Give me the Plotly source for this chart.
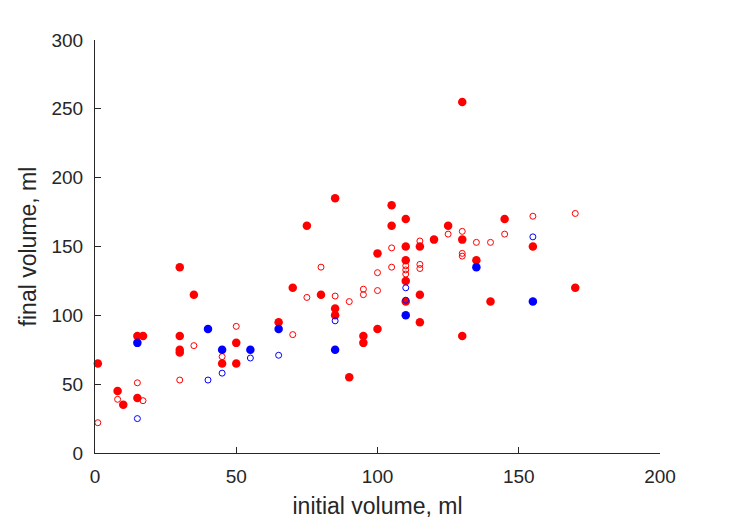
import plotly.graph_objects as go

# Red filled markers
red_filled_x = [1, 8, 10, 15, 17, 15, 30, 30, 30, 30, 35, 45, 50, 50, 65, 70, 75, 80, 85, 85, 85, 90,
                95, 95, 100, 100, 105, 105, 110, 110, 110, 110, 110, 115, 115, 115, 120, 125, 130, 130,
                130, 135, 140, 145, 155, 170]
red_filled_y = [65, 45, 35, 85, 85, 40, 135, 85, 75, 73, 115, 65, 80, 65, 95, 120, 165, 115, 185, 105, 100, 55,
                85, 80, 145, 90, 180, 165, 170, 150, 140, 125, 110, 150, 115, 95, 155, 165, 255, 155,
                85, 140, 110, 170, 150, 120]

# Red open markers
red_open_x = [1, 8, 15, 17, 30, 35, 45, 50, 70, 75, 80, 85, 90, 95, 95, 100, 100, 105, 105, 110, 110, 110,
              115, 115, 115, 125, 130, 130, 130, 135, 140, 145, 155, 170]
red_open_y = [22, 39, 51, 38, 53, 78, 70, 92, 86, 113, 135, 114, 110, 119, 115, 118, 131, 149, 135, 136, 133, 130,
              154, 137, 134, 159, 161, 145, 143, 153, 153, 159, 172, 174]

# Blue filled markers
blue_filled_x = [15, 40, 45, 55, 65, 85, 110, 135, 155]
blue_filled_y = [80, 90, 75, 75, 90, 75, 100, 135, 110]

# Blue open markers
blue_open_x = [15, 40, 45, 55, 65, 85, 110, 110, 155]
blue_open_y = [25, 53, 58, 69, 71, 96, 120, 111, 157]

x_ticks = [0, 50, 100, 150, 200]
y_ticks = [0, 50, 100, 150, 200, 250, 300]

RED = "#FF0000"
BLUE = "#0000FF"
AXC = "#262626"
FONT = "Liberation Sans, Arial, sans-serif"

fig = go.Figure()
fig.add_trace(go.Scatter(x=red_open_x, y=red_open_y, mode="markers", cliponaxis=False,
                         marker=dict(symbol="circle-open", size=6, color=RED, line=dict(width=1))))
fig.add_trace(go.Scatter(x=red_filled_x, y=red_filled_y, mode="markers", cliponaxis=False,
                         marker=dict(symbol="circle", size=8.5, color=RED, line=dict(width=0))))
fig.add_trace(go.Scatter(x=blue_filled_x, y=blue_filled_y, mode="markers", cliponaxis=False,
                         marker=dict(symbol="circle", size=8.5, color=BLUE, line=dict(width=0))))
fig.add_trace(go.Scatter(x=blue_open_x, y=blue_open_y, mode="markers", cliponaxis=False,
                         marker=dict(symbol="circle-open", size=6, color=BLUE, line=dict(width=1))))

fig.update_layout(
    width=729, height=521,
    margin=dict(l=95, r=69, t=40, b=68, autoexpand=False),
    paper_bgcolor="white", plot_bgcolor="white",
    showlegend=False,
    font=dict(family=FONT, color=AXC),
    xaxis=dict(range=[0, 200], tickvals=x_ticks, ticktext=[str(v) for v in x_ticks],
               showgrid=False, zeroline=False, showline=True, linecolor=AXC, linewidth=1,
               ticks="inside", ticklen=6, tickcolor=AXC, tickwidth=1,
               tickfont=dict(size=19, family=FONT, color=AXC), ticklabelstandoff=6,
               title=dict(text="initial volume, ml", font=dict(size=23, family=FONT, color=AXC), standoff=12),
               automargin=False, fixedrange=True),
    yaxis=dict(range=[0, 300], tickvals=y_ticks, ticktext=[str(v) for v in y_ticks],
               showgrid=False, zeroline=False, showline=True, linecolor=AXC, linewidth=1,
               ticks="inside", ticklen=6, tickcolor=AXC, tickwidth=1,
               tickfont=dict(size=19, family=FONT, color=AXC), ticklabelstandoff=7,
               title=dict(text="final volume, ml", font=dict(size=23, family=FONT, color=AXC), standoff=8),
               automargin=False, fixedrange=True),
)

fig.write_html("out.html")
